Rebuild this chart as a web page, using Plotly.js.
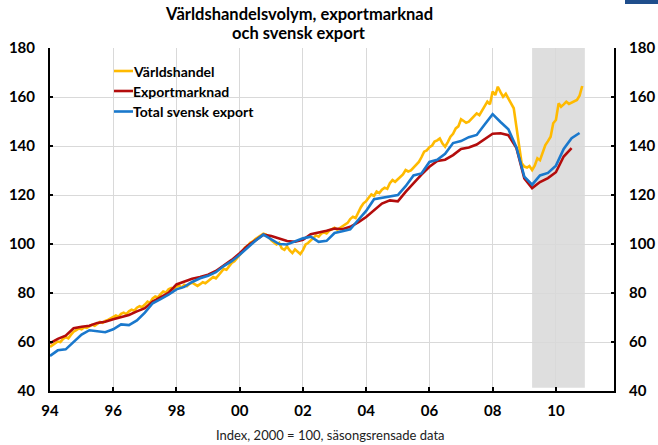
<!DOCTYPE html>
<html>
<head>
<meta charset="utf-8">
<script src="https://cdn.plot.ly/plotly-3.0.1.min.js"></script>
<style>
  html, body { margin: 0; padding: 0; background: #fff; }
  #chart { width: 658px; height: 445px; }
</style>
</head>
<body>
<div id="chart"></div>
<script>
// ---- Data ----
const seriesNames = ["Världshandel", "Exportmarknad", "Total svensk export"];
const seriesColors = ["#FFBA00", "#B30C0C", "#1A78CC"];

// Världshandel: monthly, Jan 1994 – Nov 2010
const worldStart = [1994, 1];
const worldTrade = [
  58.0, 58.8, 59.5, 60.2, 60.0, 61.3, 62.0, 61.5, 63.0, 64.2, 64.8, 65.5,
  65.2, 66.0, 65.8, 66.5, 67.0, 66.6, 67.5, 68.2, 67.8, 68.6, 69.0, 69.5,
  70.0, 70.8, 70.3, 71.5, 72.0, 71.4, 72.5, 73.2, 72.8, 74.0, 74.6, 74.2,
  75.3, 76.5, 76.0, 77.8, 78.6, 78.2, 79.5, 80.6, 80.2, 81.5, 82.0, 81.3,
  82.5, 83.0, 82.2, 83.3, 82.8, 83.8, 84.2, 83.5, 82.9, 83.6, 84.4, 84.0,
  85.0, 85.8, 86.5, 86.0, 87.4, 88.5, 89.8, 89.5, 91.0, 92.3, 93.0, 94.2,
  95.5, 96.8, 98.5, 99.2, 100.5, 101.0, 102.0, 102.8, 103.5, 104.2, 103.8, 102.9,
  101.5, 100.6, 99.8, 100.5, 98.2, 97.6, 99.0, 97.4, 96.3, 97.8, 96.8, 95.9,
  97.5, 99.8, 100.4, 101.5, 102.8, 103.5, 103.0, 104.2, 104.8, 104.3, 105.5, 106.2,
  106.6, 105.8, 106.4, 107.3, 108.0, 108.6, 110.2, 111.1, 110.6, 113.0, 115.0, 116.6,
  117.5, 119.0, 120.2, 119.6, 121.4, 120.8, 122.2, 123.0, 122.5, 124.8, 126.1, 125.4,
  126.4, 127.8, 128.4, 130.2, 129.6, 130.0, 131.3, 132.2, 133.5, 135.4, 137.7, 138.2,
  139.5, 140.2, 141.8, 142.3, 143.1, 141.0, 139.7, 141.6, 143.8, 145.0, 147.2, 148.0,
  150.9, 150.2, 149.5, 149.9, 151.0, 152.2, 153.3, 152.6, 154.4, 156.0, 158.1, 157.0,
  162.2, 160.8, 164.2, 162.0, 160.1, 161.3, 159.5, 157.4, 155.4, 148.0, 139.5, 133.0,
  131.6, 131.2, 131.8, 130.2, 132.0, 135.0, 134.2, 137.0, 140.4, 142.0, 143.8, 149.3,
  150.6, 157.4, 156.0, 157.0, 158.1, 157.2, 157.8, 158.3, 158.8, 160.5, 164.5
];

// Exportmarknad: quarterly, 1994Q1 – 2010Q3
const marketStart = [1994, 1];
const exportMarket = [
  59.5, 61.3, 62.6, 65.6,
  66.2, 66.6, 67.8, 68.3,
  69.3, 70.3, 71.0, 72.5,
  73.8, 76.5, 78.2, 80.0,
  83.5, 84.6, 85.8, 86.5,
  87.5, 89.0, 91.3, 93.5,
  96.2, 99.3, 101.5, 103.8,
  103.3, 102.3, 101.2, 100.9,
  101.7, 104.0, 104.6, 105.4,
  106.3, 106.0, 107.0, 108.8,
  111.0, 113.7, 116.5, 117.8,
  117.4, 121.3, 125.0, 128.3,
  131.5, 133.9, 134.4, 136.3,
  138.8, 139.4, 140.6, 142.8,
  145.0, 145.2, 144.4, 139.3,
  126.8, 122.8, 125.3, 126.9,
  129.3, 135.7, 139.1
];

// Total svensk export: quarterly, 1994Q1 – 2010Q4
const swedenStart = [1994, 1];
const swedishExport = [
  54.3, 56.6, 57.0, 60.2,
  63.0, 64.8, 64.5, 64.0,
  65.2, 67.2, 66.9, 68.8,
  72.0, 75.8, 77.5, 79.3,
  81.5, 82.5, 84.5, 86.0,
  87.0, 88.5, 91.0, 93.0,
  95.6, 98.5, 101.3, 103.8,
  102.0, 100.0, 99.8, 101.2,
  102.3, 103.0, 100.9, 101.3,
  104.5, 105.2, 106.0, 109.8,
  113.5, 118.3, 118.8, 119.5,
  120.0, 123.6, 128.0, 128.8,
  133.5, 134.4, 136.8, 141.2,
  142.0, 143.6, 144.5, 148.8,
  153.0, 149.8, 146.8, 139.5,
  127.5, 124.2, 128.0, 129.0,
  132.0, 138.8, 143.2, 145.3
];

const xTickYears = ["94", "96", "98", "00", "02", "04", "06", "08", "10"];
const shadedPeriod = ["2009-04-01", "2010-12-01"];
const titleLines = ["Världshandelsvolym, exportmarknad", "och svensk export"];
const captionText = "Index, 2000 = 100, säsongsrensade data";

// ---- Build date axes from start period + step ----
function dates(start, n, stepMonths) {
  const out = [];
  let y = start[0], m = start[1];
  for (let i = 0; i < n; i++) {
    out.push(y + "-" + String(m).padStart(2, "0") + "-01");
    m += stepMonths;
    while (m > 12) { m -= 12; y += 1; }
  }
  return out;
}

const xWorld = dates(worldStart, worldTrade.length, 1);
const xMarket = dates(marketStart, exportMarket.length, 3);
const xSweden = dates(swedenStart, swedishExport.length, 3);

const lw = 2.6;
const traces = [
  { x: xWorld, y: worldTrade, name: seriesNames[0], type: "scatter", mode: "lines",
    line: { color: seriesColors[0], width: lw }, hoverinfo: "skip" },
  { x: xMarket, y: exportMarket, name: seriesNames[1], type: "scatter", mode: "lines",
    line: { color: seriesColors[1], width: lw }, hoverinfo: "skip" },
  { x: xSweden, y: swedishExport, name: seriesNames[2], type: "scatter", mode: "lines",
    line: { color: seriesColors[2], width: lw }, hoverinfo: "skip" },
  // invisible trace that activates the right-hand axis
  { x: xSweden, y: swedishExport, yaxis: "y2", type: "scatter", mode: "lines",
    line: { color: "rgba(0,0,0,0)", width: 0 }, showlegend: false, hoverinfo: "skip" }
];

const FONT = "Lato, 'DejaVu Sans', sans-serif";
const tickFont = { family: FONT, size: 15, weight: "bold", color: "#000" };
const tickVals = xTickYears.map(function (yy) {
  const full = (parseInt(yy, 10) >= 90 ? "19" : "20") + yy;
  return full + "-01-01";
});

// plot area in pixels: x 50..614, y 48..391
const PL = 50, PR = 614, PT = 48, PB = 391;
function px(xp) { return (xp - PL) / (PR - PL); }
function py(yp) { return (PB - yp) / (PB - PT); }

// manual legend (short line samples as in the reference)
const legendRowsPx = [71, 91, 111.5];
const legendShapes = seriesNames.map(function (n, i) {
  return { type: "line", xref: "paper", yref: "paper",
    x0: px(114), x1: px(133), y0: py(legendRowsPx[i]), y1: py(legendRowsPx[i]),
    line: { color: seriesColors[i], width: 2.6 } };
});
const legendAnnots = seriesNames.map(function (n, i) {
  return { xref: "paper", yref: "paper", x: px(133), y: py(legendRowsPx[i]),
    xanchor: "left", yanchor: "middle", showarrow: false, text: n, xshift: -2,
    font: { family: FONT, size: 14, weight: "bold", color: "#000" } };
});
const titleAnnots = titleLines.map(function (t, i) {
  return { xref: "paper", yref: "paper", x: px(299), y: py([14, 33][i]),
    xanchor: "center", yanchor: "middle", showarrow: false, text: t,
    font: { family: FONT, size: 16.5, weight: "bold", color: "#000" } };
});

const layout = {
  width: 658, height: 445,
  margin: { l: PL, r: 658 - PR, t: PT, b: 445 - PB },
  paper_bgcolor: "#fff", plot_bgcolor: "#fff",
  showlegend: false,
  xaxis: {
    type: "date",
    range: ["1994-01-01", "2011-11-03"],
    tickvals: tickVals, ticktext: xTickYears,
    ticks: "inside", ticklen: 4, tickwidth: 2, tickcolor: "#000",
    showline: true, linecolor: "#000", linewidth: 2,
    showgrid: true, gridcolor: "#d9d9d9", gridwidth: 1,
    zeroline: false, tickfont: tickFont, ticklabelstandoff: 5,
    fixedrange: true
  },
  yaxis: {
    range: [40, 180], dtick: 20, tick0: 40,
    ticks: "inside", ticklen: 3, tickwidth: 2, tickcolor: "#000",
    showline: true, linecolor: "#000", linewidth: 2,
    showgrid: true, gridcolor: "#d9d9d9", gridwidth: 1,
    zeroline: false, tickfont: tickFont, ticklabelstandoff: 10,
    fixedrange: true
  },
  yaxis2: {
    overlaying: "y", side: "right",
    range: [40, 180], dtick: 20, tick0: 40,
    ticks: "inside", ticklen: 3, tickwidth: 2, tickcolor: "#000",
    showline: true, linecolor: "#000", linewidth: 2,
    showgrid: false, zeroline: false, tickfont: tickFont, ticklabelstandoff: 10,
    fixedrange: true
  },
  shapes: [
    { type: "rect", xref: "x", yref: "y", x0: shadedPeriod[0], x1: shadedPeriod[1],
      y0: 41.3, y1: 180, fillcolor: "#dedede", line: { width: 0 }, layer: "below" },
    { type: "rect", xref: "paper", yref: "paper", x0: px(625), x1: px(660),
      y0: py(0), y1: py(4), fillcolor: "#1f4e8c", line: { width: 0 } }
  ].concat(legendShapes),
  annotations: [
    { xref: "paper", yref: "paper", x: px(330), y: py(435),
      xanchor: "center", yanchor: "middle", showarrow: false, text: captionText,
      font: { family: FONT, size: 13, color: "#222" } }
  ].concat(legendAnnots, titleAnnots)
};

Plotly.newPlot("chart", traces, layout, { staticPlot: true, displayModeBar: false });
</script>
</body>
</html>
